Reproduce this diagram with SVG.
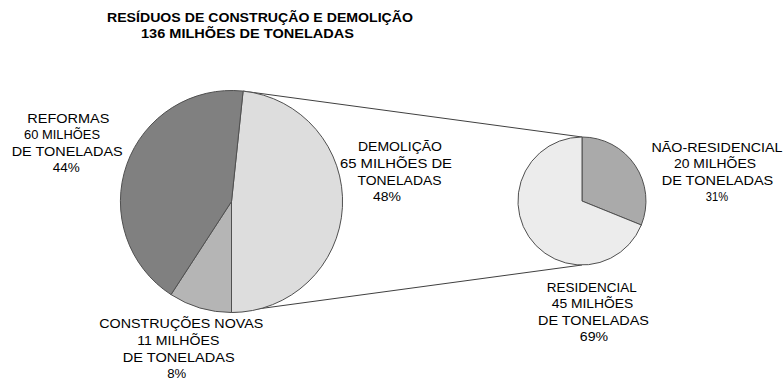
<svg xmlns="http://www.w3.org/2000/svg" width="784" height="381" viewBox="0 0 784 381">
<style>
.slice{stroke:#505050;stroke-width:1}
.conn{stroke:#404040;stroke-width:1;fill:none}
text{font-family:"Liberation Sans",Arial,sans-serif;font-size:13px;fill:#000;text-anchor:middle}
.title{font-weight:bold;font-size:12px}
</style>
<rect width="784" height="381" fill="#fff"/>
<g id="title">
<text class="title" x="260" y="22" textLength="306" lengthAdjust="spacingAndGlyphs">RESÍDUOS DE CONSTRUÇÃO E DEMOLIÇÃO</text>
<text class="title" x="247.5" y="38" textLength="213" lengthAdjust="spacingAndGlyphs">136 MILHÕES DE TONELADAS</text>
</g>
<g id="connectors">
<line class="conn" x1="243.1" y1="91.1" x2="582" y2="137"/>
<line class="conn" x1="231.5" y1="312.5" x2="582" y2="265"/>
</g>
<g id="demolicao">
<path class="slice" fill="#dddddd" d="M231.5,201.5 L243.1,91.1 A111,111 0 0 1 231.5,312.5 Z"/>
<text x="400" y="151" textLength="84" lengthAdjust="spacingAndGlyphs">DEMOLIÇÃO</text>
<text x="396" y="168" textLength="112" lengthAdjust="spacingAndGlyphs">65 MILHÕES DE</text>
<text x="399.5" y="185" textLength="84" lengthAdjust="spacingAndGlyphs">TONELADAS</text>
<text x="387" y="201" textLength="28" lengthAdjust="spacingAndGlyphs">48%</text>
</g>
<g id="construcoes-novas">
<path class="slice" fill="#b5b5b5" d="M231.5,201.5 L231.5,312.5 A111,111 0 0 1 171,294.6 Z"/>
<text x="181.3" y="328.3" textLength="164" lengthAdjust="spacingAndGlyphs">CONSTRUÇÕES NOVAS</text>
<text x="178.3" y="345" textLength="82" lengthAdjust="spacingAndGlyphs">11 MILHÕES</text>
<text x="178.8" y="361.7" textLength="112" lengthAdjust="spacingAndGlyphs">DE TONELADAS</text>
<text x="176.7" y="378.3" textLength="19" lengthAdjust="spacingAndGlyphs">8%</text>
</g>
<g id="reformas">
<path class="slice" fill="#808080" d="M231.5,201.5 L171,294.6 A111,111 0 0 1 243.1,91.1 Z"/>
<text x="68.3" y="122.7" textLength="82" lengthAdjust="spacingAndGlyphs">REFORMAS</text>
<text x="62" y="139.3" textLength="76" lengthAdjust="spacingAndGlyphs">60 MILHÕES</text>
<text x="67.2" y="155.5" textLength="111" lengthAdjust="spacingAndGlyphs">DE TONELADAS</text>
<text x="66.3" y="171.7" textLength="27" lengthAdjust="spacingAndGlyphs">44%</text>
</g>
<g id="nao-residencial">
<path class="slice" fill="#aaaaaa" d="M582,201 L582,137 A64,64 0 0 1 641.3,225 Z"/>
<text x="717" y="151.7" textLength="131" lengthAdjust="spacingAndGlyphs">NÃO-RESIDENCIAL</text>
<text x="715" y="168" textLength="82" lengthAdjust="spacingAndGlyphs">20 MILHÕES</text>
<text x="717.5" y="185" textLength="111.6" lengthAdjust="spacingAndGlyphs">DE TONELADAS</text>
<text x="717" y="201" textLength="22.3" lengthAdjust="spacingAndGlyphs">31%</text>
</g>
<g id="residencial">
<path class="slice" fill="#ececec" d="M582,201 L641.3,225 A64,64 0 1 1 582,137 Z"/>
<text x="591.7" y="291.7" textLength="90" lengthAdjust="spacingAndGlyphs">RESIDENCIAL</text>
<text x="592.5" y="308.3" textLength="81.6" lengthAdjust="spacingAndGlyphs">45 MILHÕES</text>
<text x="593.5" y="325" textLength="111" lengthAdjust="spacingAndGlyphs">DE TONELADAS</text>
<text x="594" y="340.5" textLength="28.3" lengthAdjust="spacingAndGlyphs">69%</text>
</g>
</svg>
